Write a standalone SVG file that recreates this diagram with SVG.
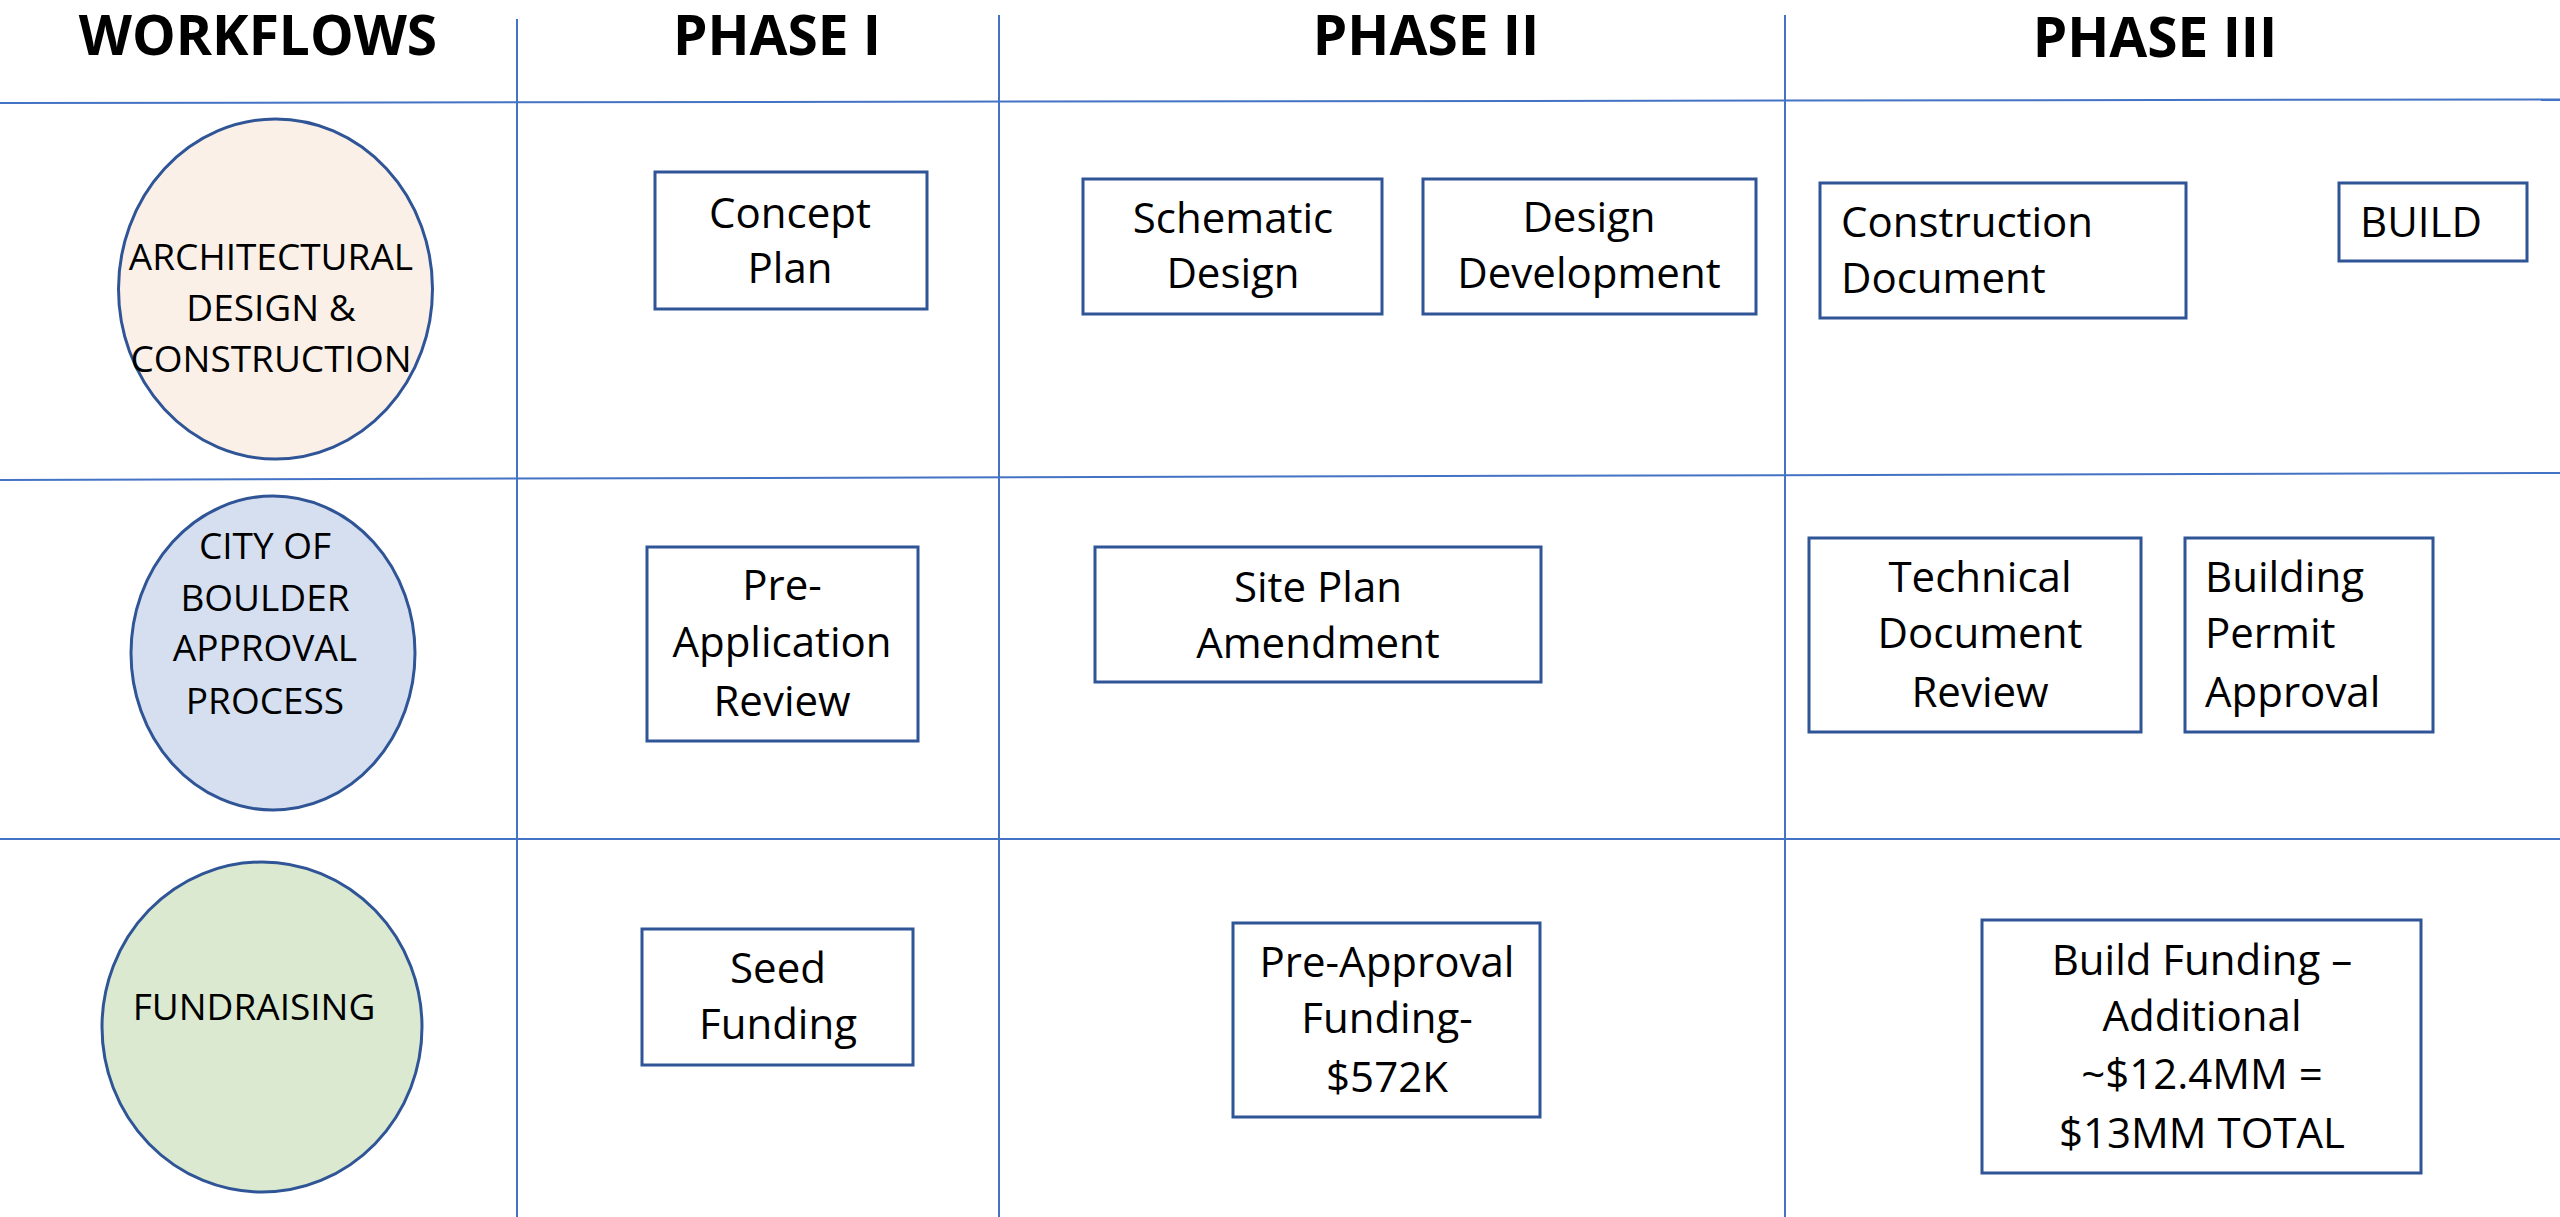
<svg xmlns="http://www.w3.org/2000/svg" width="2560" height="1217" viewBox="0 0 2560 1217">
<style>
.grid{stroke:#4472C4;stroke-width:2;fill:none}
.box{fill:#FFFFFF;stroke:#2F5597;stroke-width:3}
.ell{stroke:#2F5597;stroke-width:3}
.hdr{font-family:"Open Sans","Liberation Sans",sans-serif;font-weight:bold;font-size:55px;fill:#000;text-anchor:middle}
.t{font-family:"Open Sans","Liberation Sans",sans-serif;font-size:42px;fill:#000}
.c{text-anchor:middle}
.l{text-anchor:start}
.e{font-family:"Open Sans","Liberation Sans",sans-serif;font-size:37px;fill:#000;text-anchor:middle}
</style>
<rect x="0" y="0" width="2560" height="1217" fill="#FFFFFF"/>
<g id="grid">
<line class="grid" x1="0" y1="103" x2="2560" y2="99.5"/>
<line class="grid" x1="0" y1="480" x2="2560" y2="473"/>
<line class="grid" x1="0" y1="839" x2="2560" y2="839"/>
<line class="grid" x1="517" y1="19" x2="517" y2="1217"/>
<line class="grid" x1="999" y1="15" x2="999" y2="1217"/>
<line class="grid" x1="1785" y1="15" x2="1785" y2="1217"/>
</g>
<g id="headers">
<text class="hdr" x="258" y="55">WORKFLOWS</text>
<text class="hdr" x="777" y="55">PHASE I</text>
<text class="hdr" x="1426" y="55">PHASE II</text>
<text class="hdr" x="2155" y="57">PHASE III</text>
</g>
<g id="wf-arch">
<ellipse class="ell" cx="275.5" cy="289" rx="157" ry="170" fill="#FBF0E7"/>
<text class="e" x="271" y="270">ARCHITECTURAL</text>
<text class="e" x="271" y="321">DESIGN &amp;</text>
<text class="e" x="271" y="372">CONSTRUCTION</text>
</g>
<g id="wf-city">
<ellipse class="ell" cx="273" cy="653" rx="142" ry="157" fill="#D6DFF0"/>
<text class="e" x="265" y="559">CITY OF</text>
<text class="e" x="265" y="611">BOULDER</text>
<text class="e" x="265" y="661">APPROVAL</text>
<text class="e" x="265" y="714">PROCESS</text>
</g>
<g id="wf-fund">
<ellipse class="ell" cx="262" cy="1027" rx="160" ry="165" fill="#DAE9CF"/>
<text class="e" x="254" y="1020">FUNDRAISING</text>
</g>
<g id="concept-plan">
<rect class="box" x="655" y="172" width="272" height="137"/>
<text class="t c" x="790" y="228">Concept</text>
<text class="t c" x="790" y="283">Plan</text>
</g>
<g id="schematic-design">
<rect class="box" x="1083" y="179" width="299" height="135"/>
<text class="t c" x="1233" y="233">Schematic</text>
<text class="t c" x="1233" y="288">Design</text>
</g>
<g id="design-development">
<rect class="box" x="1423" y="179" width="333" height="135"/>
<text class="t c" x="1589" y="232">Design</text>
<text class="t c" x="1589" y="288">Development</text>
</g>
<g id="construction-document">
<rect class="box" x="1820" y="183" width="366" height="135"/>
<text class="t l" x="1841" y="237">Construction</text>
<text class="t l" x="1841" y="293">Document</text>
</g>
<g id="build">
<rect class="box" x="2339" y="183" width="188" height="78"/>
<text class="t l" x="2360" y="237">BUILD</text>
</g>
<g id="pre-application-review">
<rect class="box" x="647" y="547" width="271" height="194"/>
<text class="t c" x="782" y="600">Pre-</text>
<text class="t c" x="782" y="657">Application</text>
<text class="t c" x="782" y="716">Review</text>
</g>
<g id="site-plan-amendment">
<rect class="box" x="1095" y="547" width="446" height="135"/>
<text class="t c" x="1318" y="602">Site Plan</text>
<text class="t c" x="1318" y="658">Amendment</text>
</g>
<g id="technical-document-review">
<rect class="box" x="1809" y="538" width="332" height="194"/>
<text class="t c" x="1980" y="592">Technical</text>
<text class="t c" x="1980" y="648">Document</text>
<text class="t c" x="1980" y="707">Review</text>
</g>
<g id="building-permit-approval">
<rect class="box" x="2185" y="538" width="248" height="194"/>
<text class="t l" x="2205" y="592">Building</text>
<text class="t l" x="2205" y="648">Permit</text>
<text class="t l" x="2205" y="707">Approval</text>
</g>
<g id="seed-funding">
<rect class="box" x="642" y="929" width="271" height="136"/>
<text class="t c" x="778" y="983">Seed</text>
<text class="t c" x="778" y="1039">Funding</text>
</g>
<g id="pre-approval-funding">
<rect class="box" x="1233" y="923" width="307" height="194"/>
<text class="t c" x="1387" y="977">Pre-Approval</text>
<text class="t c" x="1387" y="1033">Funding-</text>
<text class="t c" x="1387" y="1092">$572K</text>
</g>
<g id="build-funding">
<rect class="box" x="1982" y="920" width="439" height="253"/>
<text class="t c" x="2202" y="975">Build Funding –</text>
<text class="t c" x="2202" y="1031">Additional</text>
<text class="t c" x="2202" y="1089">~$12.4MM =</text>
<text class="t c" x="2202" y="1148">$13MM TOTAL</text>
</g>
</svg>
